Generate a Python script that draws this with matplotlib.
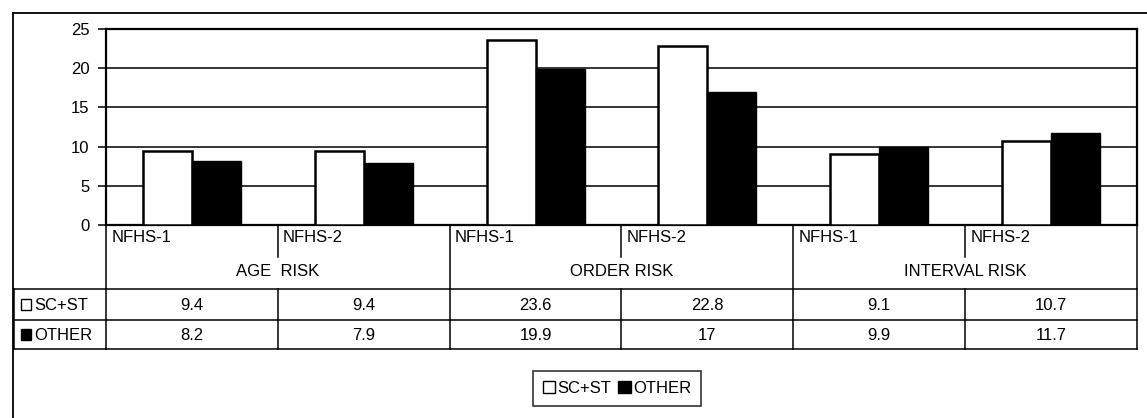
import numpy as np
import matplotlib
matplotlib.use('Agg')
import matplotlib.pyplot as plt
from matplotlib.lines import Line2D
from matplotlib.patches import Rectangle, Patch
from matplotlib.transforms import blended_transform_factory

plt.rcParams['font.family'] = ['Liberation Sans', 'DejaVu Sans']

# ---- data ----
surveys = ["NFHS-1", "NFHS-2", "NFHS-1", "NFHS-2", "NFHS-1", "NFHS-2"]
groups = ["AGE  RISK", "ORDER RISK", "INTERVAL RISK"]
series_names = ["SC+ST", "OTHER"]
sc_st = [9.4, 9.4, 23.6, 22.8, 9.1, 10.7]
other = [8.2, 7.9, 19.9, 17, 9.9, 11.7]
yticks = [0, 5, 10, 15, 20, 25]

W, H = 1147, 418
FS = 12
fig = plt.figure(figsize=(W / 100, H / 100), dpi=100)


def fx(px):
    return px / W


def fy(py):
    return 1 - py / H


ax = fig.add_axes([fx(106), fy(225), fx(1137) - fx(106), fy(29) - fy(225)])
x = np.arange(len(sc_st))
bw = 0.285
ax.bar(x - bw / 2, sc_st, bw, color='white', edgecolor='black', lw=1.8, zorder=3)
ax.bar(x + bw / 2, other, bw, color='black', edgecolor='black', lw=1, zorder=3)
ax.set_xlim(-0.5, len(sc_st) - 0.5)
ax.set_ylim(0, 25)
ax.set_yticks(yticks)
ax.yaxis.grid(True, color='black', lw=1.1)
ax.set_axisbelow(True)
ax.set_xticks([])
ax.tick_params(axis='y', length=6, width=1.1, pad=6, labelsize=FS)
for s in ax.spines.values():
    s.set_linewidth(1.6)

trans = blended_transform_factory(ax.transData, fig.transFigure)
LW = 1.1


def seg(xs, ys, transform, lw=LW):
    fig.add_artist(Line2D(xs, ys, transform=transform, color='black', lw=lw))


# outer frame (top and left)
seg([fx(13), 1], [fy(13), fy(13)], fig.transFigure, lw=1.3)
seg([fx(13), fx(13)], [fy(13), 0], fig.transFigure, lw=1.3)

n = len(sc_st)
# vertical lines in header and rows
for b in np.arange(-0.5, n, 2):
    seg([b, b], [fy(225), fy(349)], trans)
for b in np.arange(0.5, n, 2):
    seg([b, b], [fy(225), fy(257)], trans)
    seg([b, b], [fy(289), fy(349)], trans)
# row label column
seg([fx(14), fx(14)], [fy(289), fy(349)], fig.transFigure)
for py in [289, 320, 349]:
    seg([fx(14), fx(106)], [fy(py), fy(py)], fig.transFigure)
    seg([-0.5, n - 0.5], [fy(py), fy(py)], trans)

# header texts
for i, s in enumerate(surveys):
    fig.text(i - 0.5 + 0.03, fy(238), s, transform=trans, ha='left', va='center',
             fontsize=FS)
for g, name in enumerate(groups):
    fig.text(2 * g + 0.5, fy(272), name, transform=trans, ha='center', va='center',
             fontsize=FS)

# values
for i in range(n):
    fig.text(i, fy(305), f"{sc_st[i]:g}", transform=trans, ha='center', va='center',
             fontsize=FS)
    fig.text(i, fy(335), f"{other[i]:g}", transform=trans, ha='center', va='center',
             fontsize=FS)

# row labels with swatches
for py, name, fc in [(305, series_names[0], 'white'), (335, series_names[1], 'black')]:
    fig.add_artist(Rectangle((fx(21), fy(py + 5)), fx(10), fy(0) - fy(11),
                             transform=fig.transFigure, facecolor=fc,
                             edgecolor='black', lw=1))
    fig.text(fx(34), fy(py), name, ha='left', va='center', fontsize=FS)

# legend
handles = [Patch(facecolor='white', edgecolor='black', lw=1),
           Patch(facecolor='black', edgecolor='black', lw=1)]
leg = fig.legend(handles=handles, labels=series_names, loc='upper center',
                 bbox_to_anchor=(fx(617), fy(371)), ncol=2, frameon=True,
                 fancybox=False, edgecolor='black', handlelength=0.75,
                 handleheight=0.75, handletextpad=0.15, columnspacing=0.4,
                 borderpad=0.6, fontsize=FS, borderaxespad=0)
leg.get_frame().set_linewidth(1.2)

fig.savefig('out.png', dpi=100)
